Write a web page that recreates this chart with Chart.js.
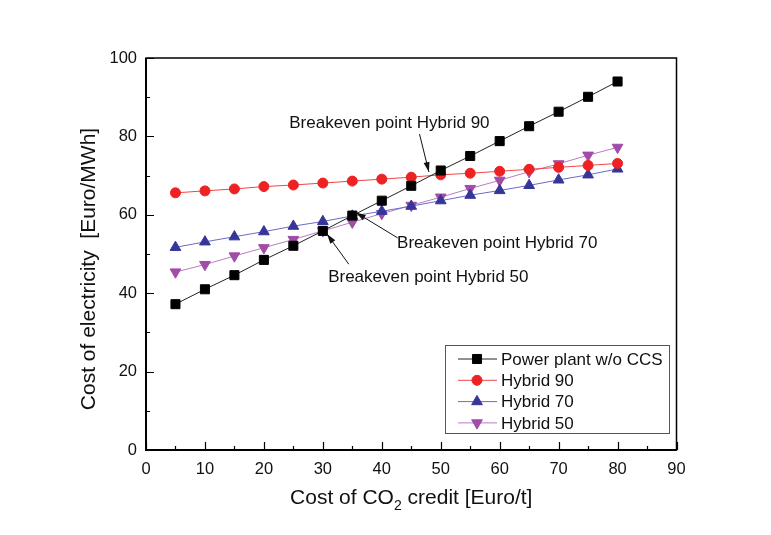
<!DOCTYPE html>
<html>
<head>
<meta charset="utf-8">
<script src="https://cdn.jsdelivr.net/npm/chart.js@4.4.1/dist/chart.umd.min.js"></script>
<style>
  html, body { margin: 0; padding: 0; background: #fff; }
  #wrap { width: 771px; height: 535px; }
</style>
</head>
<body>
<div id="wrap"><canvas id="chart" width="771" height="535"></canvas></div>
<script>
// CO2 credit cost [Euro/t]
const co2Cost = [5, 10, 15, 20, 25, 30, 35, 40, 45, 50, 55, 60, 65, 70, 75, 80];
// cost of electricity [Euro/MWh]
const plantNoCCS = [37.2, 41.0, 44.6, 48.5, 52.1, 55.9, 59.8, 63.6, 67.4, 71.3, 75.0, 78.8, 82.6, 86.3, 90.1, 94.0];
const hybrid90 = [65.6, 66.1, 66.6, 67.2, 67.6, 68.1, 68.6, 69.1, 69.6, 70.2, 70.6, 71.1, 71.6, 72.1, 72.6, 73.1];
const hybrid70 = [51.7, 53.1, 54.4, 55.7, 57.1, 58.3, 59.7, 60.9, 62.2, 63.6, 65.0, 66.2, 67.5, 68.9, 70.2, 71.7];
const hybrid50 = [45.4, 47.3, 49.5, 51.6, 53.7, 55.9, 58.1, 60.3, 62.4, 64.5, 66.7, 68.8, 71.0, 73.0, 75.2, 77.2];
const seriesNames = ['Power plant w/o CCS', 'Hybrid 90', 'Hybrid 70', 'Hybrid 50'];
const xTicks = [0, 10, 20, 30, 40, 50, 60, 70, 80, 90];
const yTicks = [0, 20, 40, 60, 80, 100];

// annotations: text anchor and arrow (tail -> head), in data units
const notes = [
  { text: 'Breakeven point Hybrid 90', x: 24.3, y: 83.4, from: [46.4, 80.6], to: [48.0, 70.9] },
  { text: 'Breakeven point Hybrid 70', x: 42.6, y: 52.6, from: [42.7, 54.1], to: [35.6, 60.6] },
  { text: 'Breakeven point Hybrid 50', x: 30.9, y: 44.1, from: [34.4, 47.4], to: [30.7, 55.1] }
];

const FONT = 'Arial, "Liberation Sans", sans-serif';

function pts(ys) {
  return co2Cost.map((x, i) => ({ x: x, y: ys[i] }));
}

const styles = [
  { line: '#222222', fill: '#000000', shape: 'rect', r: 6.4, rot: 0 },
  { line: '#f04545', fill: '#ee2222', shape: 'circle', r: 5, rot: 0 },
  { line: '#6a6ac8', fill: '#363699', shape: 'triangle', r: 6.2, rot: 0 },
  { line: '#bb7cc4', fill: '#a04ca8', shape: 'triangle', r: 6.2, rot: 180 }
];
const values = [plantNoCCS, hybrid90, hybrid70, hybrid50];

const datasets = values.map((v, i) => ({
  label: seriesNames[i],
  data: pts(v),
  borderColor: styles[i].line,
  borderWidth: 1,
  backgroundColor: styles[i].fill,
  pointBackgroundColor: styles[i].fill,
  pointBorderColor: styles[i].fill,
  pointBorderWidth: 1,
  pointStyle: styles[i].shape,
  pointRadius: styles[i].r,
  pointRotation: styles[i].rot,
  tension: 0
}));

// frame, inward ticks, titles, annotations, legend
const decor = {
  id: 'decor',
  afterDraw(chart) {
    const ctx = chart.ctx;
    const a = chart.chartArea;
    const xs = chart.scales.x, ys = chart.scales.y;
    ctx.save();
    ctx.strokeStyle = '#000';
    ctx.lineWidth = 1.2;
    // ticks
    ctx.beginPath();
    for (let v = 0; v <= 90; v += 5) {
      const px = Math.round(xs.getPixelForValue(v)) + 0.5;
      const len = v % 10 === 0 ? 8 : 4;
      ctx.moveTo(px, a.bottom); ctx.lineTo(px, a.bottom - len);
    }
    for (let v = 0; v <= 100; v += 10) {
      const py = Math.round(ys.getPixelForValue(v)) + 0.5;
      const len = v % 20 === 0 ? 8 : 4;
      ctx.moveTo(a.left, py); ctx.lineTo(a.left + len, py);
    }
    ctx.stroke();
    // frame
    ctx.lineWidth = 1.5;
    ctx.strokeRect(a.left, a.top, a.right - a.left, a.bottom - a.top);
    ctx.lineWidth = 2;
    ctx.beginPath();
    ctx.moveTo(a.left, a.top); ctx.lineTo(a.left, a.bottom); ctx.lineTo(a.right, a.bottom);
    ctx.stroke();

    // axis titles
    ctx.fillStyle = '#111';
    ctx.textBaseline = 'middle';
    const t1 = 'Cost of CO', t2 = '2', t3 = ' credit [Euro/t]';
    ctx.font = '21px ' + FONT;
    const w1 = ctx.measureText(t1).width, w3 = ctx.measureText(t3).width;
    ctx.font = '14px ' + FONT;
    const w2 = ctx.measureText(t2).width;
    const cx = (a.left + a.right) / 2;
    const sx = cx - (w1 + w2 + w3) / 2;
    const ty = 498;
    ctx.textAlign = 'left';
    ctx.font = '21px ' + FONT;
    ctx.fillText(t1, sx, ty);
    ctx.font = '14px ' + FONT;
    ctx.fillText(t2, sx + w1, ty + 8);
    ctx.font = '21px ' + FONT;
    ctx.fillText(t3, sx + w1 + w2, ty);
    ctx.save();
    ctx.translate(89, 269);
    ctx.rotate(-Math.PI / 2);
    ctx.textAlign = 'center';
    ctx.fillText('Cost of electricity  [Euro/MWh]', 0, 0);
    ctx.restore();

    // annotations
    ctx.font = '17px ' + FONT;
    ctx.textAlign = 'left';
    ctx.fillStyle = '#111';
    ctx.strokeStyle = '#111';
    ctx.lineWidth = 1;
    notes.forEach(n => {
      ctx.fillText(n.text, xs.getPixelForValue(n.x), ys.getPixelForValue(n.y));
      const x0 = xs.getPixelForValue(n.from[0]), y0 = ys.getPixelForValue(n.from[1]);
      const x1 = xs.getPixelForValue(n.to[0]), y1 = ys.getPixelForValue(n.to[1]);
      ctx.beginPath(); ctx.moveTo(x0, y0); ctx.lineTo(x1, y1); ctx.stroke();
      const ang = Math.atan2(y1 - y0, x1 - x0);
      const hl = 10, hw = 3;
      ctx.beginPath();
      ctx.moveTo(x1, y1);
      ctx.lineTo(x1 - hl * Math.cos(ang) + hw * Math.sin(ang), y1 - hl * Math.sin(ang) - hw * Math.cos(ang));
      ctx.lineTo(x1 - hl * Math.cos(ang) - hw * Math.sin(ang), y1 - hl * Math.sin(ang) + hw * Math.cos(ang));
      ctx.closePath(); ctx.fill();
    });

    // legend box
    const bx = 445, by = 345, bw = 224, bh = 88;
    ctx.fillStyle = '#fff';
    ctx.fillRect(bx, by, bw, bh);
    ctx.strokeStyle = '#555';
    ctx.lineWidth = 1;
    ctx.strokeRect(bx + 0.5, by + 0.5, bw, bh);
    chart.data.datasets.forEach((ds, i) => {
      const ly = by + 14 + i * 21.3;
      ctx.strokeStyle = ds.borderColor;
      ctx.lineWidth = 1;
      ctx.beginPath(); ctx.moveTo(458, ly); ctx.lineTo(497, ly); ctx.stroke();
      ctx.fillStyle = ds.pointBackgroundColor;
      ctx.strokeStyle = ds.pointBorderColor;
      Chart.helpers.drawPoint(ctx, {
        pointStyle: ds.pointStyle, radius: ds.pointRadius, rotation: ds.pointRotation, borderWidth: 1
      }, 477, ly);
      ctx.fillStyle = '#111';
      ctx.font = '17px ' + FONT;
      ctx.textBaseline = 'middle';
      ctx.fillText(ds.label, 501, ly + 1);
    });
    ctx.restore();
  }
};

new Chart(document.getElementById('chart').getContext('2d'), {
  type: 'line',
  data: { datasets: datasets },
  options: {
    responsive: false,
    animation: false,
    layout: { padding: { left: 0, right: 94.5, top: 58, bottom: 0 } },
    plugins: { legend: { display: false }, tooltip: { enabled: false } },
    scales: {
      x: {
        type: 'linear',
        min: 0, max: 90,
        afterFit: s => { s.height = 85; },
        afterBuildTicks: s => { s.ticks = xTicks.map(v => ({ value: v })); },
        grid: { display: false, drawTicks: false },
        border: { display: false },
        ticks: { color: '#111', padding: 10, font: { size: 16.5, family: FONT } }
      },
      y: {
        type: 'linear',
        min: 0, max: 100,
        afterFit: s => { s.width = 146; },
        afterBuildTicks: s => { s.ticks = yTicks.map(v => ({ value: v })); },
        grid: { display: false, drawTicks: false },
        border: { display: false },
        ticks: { color: '#111', padding: 9, font: { size: 16.5, family: FONT } }
      }
    }
  },
  plugins: [decor]
});
</script>
</body>
</html>
